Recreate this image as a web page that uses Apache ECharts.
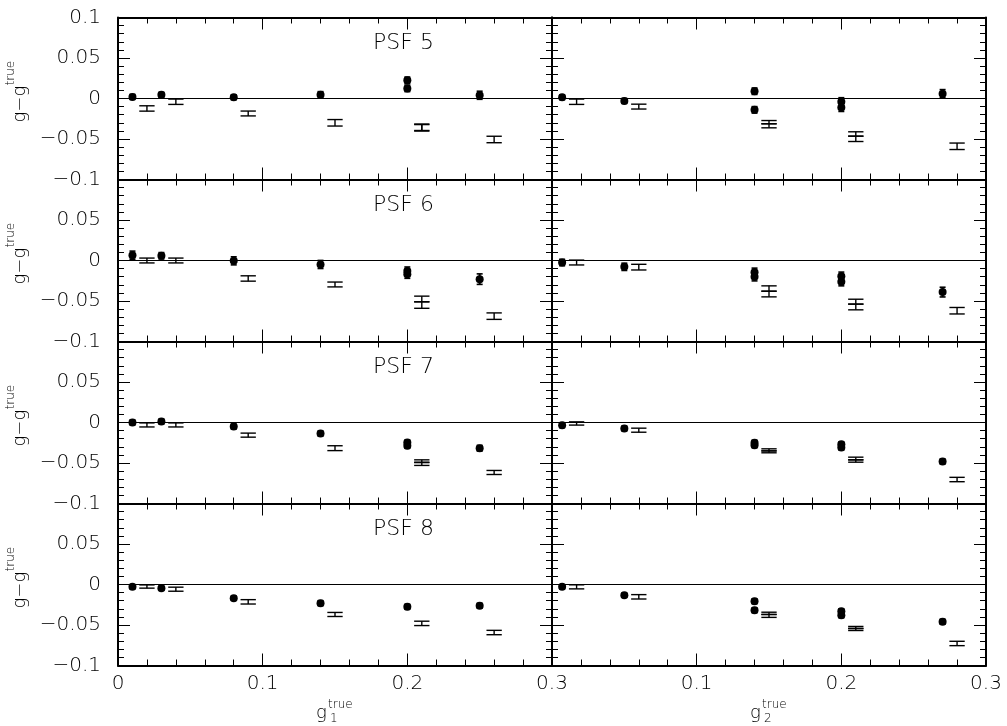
<!DOCTYPE html>
<html><head><meta charset="utf-8">
<script src="https://cdn.jsdelivr.net/npm/echarts@6/dist/echarts.min.js"></script>
<style>html,body{margin:0;padding:0;background:#fff}#c{width:1007px;height:726px}</style>
</head><body><div id="c"></div><script>
// ---------- DATA ----------
const psfLabels = ['PSF 5', 'PSF 6', 'PSF 7', 'PSF 8'];
const xTickLabels = { '0': '0', '0.1': '0.1', '0.2': '0.2', '0.3': '0.3' };
const yTickLabels = { '-0.1': '\u22120.1', '-0.05': '\u22120.05', '0': '0', '0.05': '0.05', '0.1': '0.1' };
// [g_true, g - g_true, error]
const psf5_g1_pts  = [[0.01,0.002,0.003],[0.03,0.0045,0.003],[0.08,0.0015,0.003],[0.14,0.0045,0.004],[0.20,0.0225,0.004],[0.20,0.0125,0.004],[0.25,0.004,0.005]];
const psf5_g1_bars = [[0.02,-0.0123,0.0033],[0.04,-0.004,0.0033],[0.09,-0.0185,0.003],[0.15,-0.030,0.004],[0.21,-0.0355,0.004],[0.21,-0.0362,0.004],[0.26,-0.0506,0.004]];
const psf5_g2_pts  = [[0.007,0.0016,0.003],[0.05,-0.003,0.003],[0.14,0.009,0.004],[0.14,-0.014,0.004],[0.20,-0.004,0.005],[0.20,-0.011,0.005],[0.27,0.006,0.005]];
const psf5_g2_bars = [[0.017,-0.004,0.0033],[0.06,-0.010,0.003],[0.15,-0.0292,0.002],[0.15,-0.0337,0.0025],[0.21,-0.0438,0.0027],[0.21,-0.0498,0.0033],[0.28,-0.059,0.004]];
const psf6_g1_pts  = [[0.01,0.0066,0.005],[0.03,0.0058,0.004],[0.08,-0.0004,0.005],[0.14,-0.0049,0.005],[0.20,-0.013,0.005],[0.20,-0.017,0.005],[0.25,-0.023,0.0065]];
const psf6_g1_bars = [[0.02,0,0.003],[0.04,0,0.003],[0.09,-0.0222,0.0033],[0.15,-0.0296,0.003],[0.21,-0.0475,0.0035],[0.21,-0.055,0.004],[0.26,-0.0687,0.004]];
const psf6_g2_pts  = [[0.007,-0.0025,0.004],[0.05,-0.0078,0.0045],[0.14,-0.0144,0.005],[0.14,-0.0202,0.005],[0.20,-0.0193,0.005],[0.20,-0.0263,0.005],[0.27,-0.039,0.006]];
const psf6_g2_bars = [[0.017,-0.0025,0.003],[0.06,-0.0082,0.0035],[0.15,-0.0346,0.0033],[0.15,-0.0414,0.0035],[0.21,-0.0508,0.003],[0.21,-0.0574,0.0035],[0.28,-0.062,0.004]];
const psf7_g1_pts  = [[0.01,0,0.003],[0.03,0.0012,0.003],[0.08,-0.005,0.003],[0.14,-0.0136,0.003],[0.20,-0.0247,0.003],[0.20,-0.0288,0.003],[0.25,-0.0317,0.0035]];
const psf7_g1_bars = [[0.02,-0.003,0.0025],[0.04,-0.003,0.0025],[0.09,-0.0156,0.0025],[0.15,-0.0317,0.003],[0.21,-0.0478,0.0017],[0.21,-0.051,0.002],[0.26,-0.0617,0.0025]];
const psf7_g2_pts  = [[0.007,-0.0033,0.003],[0.05,-0.0074,0.003],[0.14,-0.025,0.003],[0.14,-0.028,0.003],[0.20,-0.027,0.003],[0.20,-0.031,0.003],[0.27,-0.0481,0.003]];
const psf7_g2_bars = [[0.017,-0.0012,0.002],[0.06,-0.0095,0.0025],[0.15,-0.0338,0.0013],[0.15,-0.0362,0.0012],[0.21,-0.0445,0.0017],[0.21,-0.0475,0.0015],[0.28,-0.0704,0.0027]];
const psf8_g1_pts  = [[0.01,-0.0029,0.0025],[0.03,-0.0045,0.0025],[0.08,-0.0169,0.0025],[0.14,-0.023,0.003],[0.20,-0.0276,0.003],[0.25,-0.0263,0.003]];
const psf8_g1_bars = [[0.02,-0.0025,0.002],[0.04,-0.0058,0.0025],[0.09,-0.0214,0.0027],[0.15,-0.037,0.0025],[0.21,-0.048,0.0027],[0.26,-0.0593,0.0027]];
const psf8_g2_pts  = [[0.007,-0.0029,0.0025],[0.05,-0.0132,0.0025],[0.14,-0.0206,0.003],[0.14,-0.0317,0.003],[0.20,-0.033,0.003],[0.20,-0.038,0.003],[0.27,-0.046,0.003]];
const psf8_g2_bars = [[0.017,-0.0029,0.0025],[0.06,-0.0152,0.0027],[0.15,-0.0356,0.0014],[0.15,-0.0388,0.0018],[0.21,-0.053,0.0012],[0.21,-0.0556,0.0012],[0.28,-0.0728,0.0027]];

const panelPts  = [[psf5_g1_pts, psf5_g2_pts],[psf6_g1_pts, psf6_g2_pts],[psf7_g1_pts, psf7_g2_pts],[psf8_g1_pts, psf8_g2_pts]];
const panelBars = [[psf5_g1_bars, psf5_g2_bars],[psf6_g1_bars, psf6_g2_bars],[psf7_g1_bars, psf7_g2_bars],[psf8_g1_bars, psf8_g2_bars]];

// ---------- LAYOUT ----------
const FONT = 'DejaVu Sans';
const rowTop = [17.5, 179.5, 341.5, 503.5];
const rowH = 162;
const colLeft = [118, 552];
const colW = 434;
const HALF_CAP = 0.0053; // x half-width of the horizontal-bar markers (data units)

function fmtNum(v){ return String(Math.round(v*1000)/1000); }

function renderPoint(params, api){
  const x = api.value(0), y = api.value(1), e = api.value(2);
  const c = api.coord([x, y]), t = api.coord([x, y + e]), b = api.coord([x, y - e]);
  const w = 3;
  const st = {stroke:'#000', lineWidth:1.6};
  return {type:'group', children:[
    {type:'line', shape:{x1:c[0], y1:t[1], x2:c[0], y2:b[1]}, style:{stroke:'#000', lineWidth:2}},
    {type:'line', shape:{x1:c[0]-w, y1:t[1], x2:c[0]+w, y2:t[1]}, style:st},
    {type:'line', shape:{x1:c[0]-w, y1:b[1], x2:c[0]+w, y2:b[1]}, style:st},
    {type:'circle', shape:{cx:c[0], cy:c[1], r:4}, style:{fill:'#000'}}
  ]};
}
function renderBar(params, api){
  const x = api.value(0), y = api.value(1), e = api.value(2);
  const l = api.coord([x - HALF_CAP, y + e]), r = api.coord([x + HALF_CAP, y - e]);
  const c = api.coord([x, y]);
  const st = {stroke:'#000', lineWidth:1.4};
  return {type:'group', children:[
    {type:'line', shape:{x1:c[0], y1:l[1], x2:c[0], y2:r[1]}, style:st},
    {type:'line', shape:{x1:l[0], y1:l[1], x2:r[0], y2:l[1]}, style:st},
    {type:'line', shape:{x1:l[0], y1:r[1], x2:r[0], y2:r[1]}, style:st}
  ]};
}

const grids = [], xAxes = [], yAxes = [], series = [], graphics = [];
const tickStyle = {color:'#000', width:1};
for (let r = 0; r < 4; r++) {
  for (let c = 0; c < 2; c++) {
    const g = r*2 + c;
    grids.push({left: colLeft[c], top: rowTop[r], width: colW, height: rowH});
    const xBase = {
      gridIndex: g, type: 'value', min: 0, max: 0.3, interval: 0.1,
      splitLine: {show: false},
      axisLine: {show: true, onZero: false, lineStyle: {color: '#000', width: 2}},
      axisTick: {show: true, inside: true, length: 12, lineStyle: tickStyle},
      minorTick: {show: true, splitNumber: 5, length: 6, lineStyle: tickStyle},
    };
    xAxes.push(Object.assign({}, xBase, {
      position: 'bottom',
      axisLabel: {show: r === 3, margin: 8, color: '#000', fontFamily: FONT, fontSize: 20, fontWeight: 200,
        formatter: v => (c === 1 && v === 0) ? '' : (xTickLabels[fmtNum(v)] || '')}
    }));
    xAxes.push(Object.assign({}, xBase, {position: 'top', axisLabel: {show: false}}));
    const yBase = {
      gridIndex: g, type: 'value', min: -0.1, max: 0.1, interval: 0.05,
      splitLine: {show: false},
      axisLine: {show: true, onZero: false, lineStyle: {color: '#000', width: 2}},
      axisTick: {show: true, inside: true, length: 12, lineStyle: tickStyle},
      minorTick: {show: true, splitNumber: 5, length: 6, lineStyle: tickStyle},
    };
    yAxes.push(Object.assign({}, yBase, {
      position: 'left',
      axisLabel: {show: c === 0, margin: 17, color: '#000', fontFamily: FONT, fontSize: 20, fontWeight: 200,
        formatter: v => (r > 0 && v > 0.09) ? '' : (yTickLabels[fmtNum(v)] || '')}
    }));
    yAxes.push(Object.assign({}, yBase, {position: 'right', axisLabel: {show: false}}));

    series.push({
      type: 'custom', xAxisIndex: g*2, yAxisIndex: g*2, renderItem: renderBar,
      dimensions: ['x','y','err'], encode: {x: 0, y: 1},
      data: panelBars[r][c], z: 3,
      markLine: {silent: true, symbol: ['none','none'], label: {show: false},
        lineStyle: {color: '#000', width: 1, type: 'solid'}, data: [{yAxis: 0}]}
    });
    series.push({
      type: 'custom', xAxisIndex: g*2, yAxisIndex: g*2, renderItem: renderPoint,
      dimensions: ['x','y','err'], encode: {x: 0, y: 1},
      data: panelPts[r][c], z: 4
    });
  }
  // PSF label
  graphics.push({type: 'text', left: 373, top: rowTop[r] + 15,
    style: {text: psfLabels[r], font: '200 22px "DejaVu Sans"', fill: '#000'}});
  // y-axis title  g - g^true (rotated)
  const rc = rowTop[r] + rowH/2;
  graphics.push({type: 'group', x: 20, y: rc, rotation: Math.PI/2, children: [
    {type: 'text', x: -24, y: 0, style: {text: 'g\u2212g', font: '200 18px "DejaVu Sans"', fill: '#000', verticalAlign: 'middle', align: 'left'}},
    {type: 'text', x: 13, y: -9, style: {text: 'true', font: '200 12px "DejaVu Sans"', fill: '#000', verticalAlign: 'middle', align: 'left'}}
  ]});
}
// x-axis titles
[[316, '1'], [750, '2']].forEach(([x0, sub]) => {
  graphics.push({type: 'group', x: x0, y: 713, children: [
    {type: 'text', x: 0, y: 0, style: {text: 'g', font: '200 18px "DejaVu Sans"', fill: '#000', verticalAlign: 'middle', align: 'left'}},
    {type: 'text', x: 12, y: -8, style: {text: 'true', font: '200 12px "DejaVu Sans"', fill: '#000', verticalAlign: 'middle', align: 'left'}},
    {type: 'text', x: 14, y: 6, style: {text: sub, font: '200 12px "DejaVu Sans"', fill: '#000', verticalAlign: 'middle', align: 'left'}}
  ]});
});

const chart = echarts.init(document.getElementById('c'), null, {renderer: 'canvas'});
chart.setOption({
  animation: false,
  backgroundColor: '#fff',
  grid: grids, xAxis: xAxes, yAxis: yAxes, series: series, graphic: graphics
});
</script></body></html>
